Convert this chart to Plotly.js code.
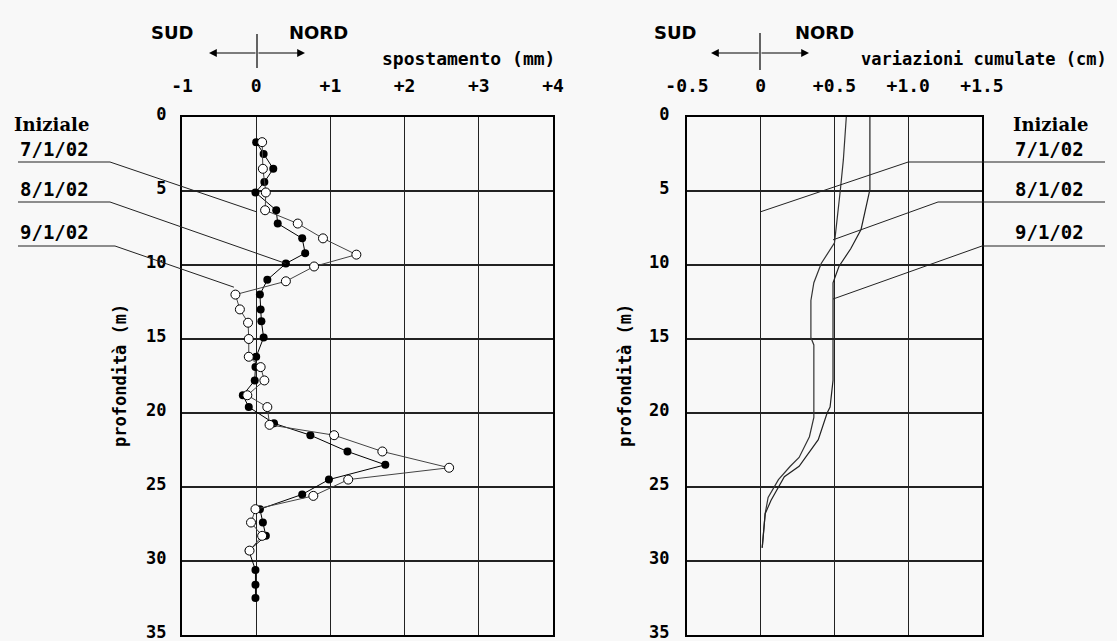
<!DOCTYPE html>
<html>
<head>
<meta charset="utf-8">
<script src="https://cdn.plot.ly/plotly-3.0.1.min.js"></script>
<style>html,body{margin:0;padding:0;background:#f8f8f8;}</style>
</head>
<body>
<div id="chart" style="width:1117px;height:641px;"></div>
<script>
// ---- data ----
// left panel: displacement (mm) vs depth (m)
const depth0801 = [1.7, 2.5, 3.5, 4.4, 5.1, 6.3, 7.2, 8.2, 9.2, 9.9, 11.0, 12.0, 13.0, 13.8, 14.9, 16.2, 16.9, 17.8, 18.8, 19.6, 20.7, 21.5, 22.6, 23.5, 24.5, 25.5, 26.5, 27.4, 28.3, 29.3, 30.6, 31.6, 32.5];
const disp0801  = [0.0, 0.1, 0.23, 0.11, -0.01, 0.27, 0.29, 0.62, 0.66, 0.40, 0.15, 0.05, 0.06, 0.07, 0.10, 0.0, -0.01, -0.02, -0.18, -0.10, 0.24, 0.73, 1.23, 1.74, 0.98, 0.62, 0.05, 0.09, 0.13, -0.10, -0.01, -0.01, -0.01];
const depth0901 = [1.7, 3.5, 5.1, 6.3, 7.2, 8.2, 9.3, 10.1, 11.1, 12.0, 13.0, 13.9, 15.0, 16.2, 16.9, 17.8, 18.8, 19.6, 20.8, 21.5, 22.6, 23.7, 24.5, 25.6, 26.5, 27.4, 28.3, 29.3];
const disp0901  = [0.08, 0.09, 0.13, 0.12, 0.56, 0.90, 1.35, 0.78, 0.40, -0.28, -0.22, -0.11, -0.10, -0.10, 0.06, 0.11, -0.12, 0.15, 0.18, 1.05, 1.70, 2.6, 1.24, 0.77, -0.01, -0.07, 0.08, -0.09];

// right panel: cumulative variation (cm) vs depth (m)
const cumDepth0801 = [0, 2.9, 4.9, 7.6, 8.5, 9.9, 11.2, 12.4, 14.9, 15.4, 20.3, 21.6, 23.0, 23.6, 24.5, 25.7, 26.8, 29.1];
const cum0801      = [0.58, 0.56, 0.54, 0.51, 0.50, 0.41, 0.36, 0.34, 0.34, 0.36, 0.36, 0.33, 0.26, 0.20, 0.12, 0.05, 0.03, 0.01];
const cumDepth0901 = [0, 3.1, 4.9, 5.8, 7.6, 8.9, 10.1, 11.2, 17.8, 19.6, 20.0, 21.8, 23.6, 24.3, 25.9, 26.8, 29.1];
const cum0901      = [0.74, 0.74, 0.74, 0.72, 0.68, 0.61, 0.53, 0.49, 0.49, 0.47, 0.45, 0.39, 0.26, 0.16, 0.07, 0.03, 0.01];

// tick labels
const leftTickVals  = [-1, 0, 1, 2, 3, 4];
const leftTickText  = ['-1', '0', '+1', '+2', '+3', '+4'];
const rightTickVals = [-0.5, 0, 0.5, 1.0, 1.5];
const rightTickText = ['-0.5', '0', '+0.5', '+1.0', '+1.5'];
const depthTicks    = [0, 5, 10, 15, 20, 25, 30, 35];
const dateLabels    = ['7/1/02', '8/1/02', '9/1/02'];

// ---- layout geometry ----
const W = 1117, H = 641;
const L1 = 182, R1 = 553, L2 = 687, R2 = 982, YT = 117, YB = 635;
const X1RANGE = [-1, 4], X2RANGE = [-0.5, 1.5], YRANGE = [35, 0];
const px = v => v / W, py = v => 1 - v / H;
const lx = v => L1 + (v - X1RANGE[0]) / (X1RANGE[1] - X1RANGE[0]) * (R1 - L1);
const rx = v => L2 + (v - X2RANGE[0]) / (X2RANGE[1] - X2RANGE[0]) * (R2 - L2);
const dy = d => YT + d / 35 * (YB - YT);

const MONO = 'DejaVu Sans Mono';
const bg = '#f8f8f8';

const traces = [
  {x: disp0801, y: depth0801, xaxis: 'x', yaxis: 'y', mode: 'lines+markers', name: '8/1/02',
   line: {color: '#000', width: 1}, marker: {symbol: 'circle', size: 8, color: '#000'}},
  {x: disp0901, y: depth0901, xaxis: 'x', yaxis: 'y', mode: 'lines+markers', name: '9/1/02',
   line: {color: '#444', width: 1}, marker: {symbol: 'circle', size: 9, color: '#fff', line: {color: '#000', width: 1}}},
  {x: cum0801, y: cumDepth0801, xaxis: 'x2', yaxis: 'y2', mode: 'lines', name: '8/1/02',
   line: {color: '#333', width: 1.2}},
  {x: cum0901, y: cumDepth0901, xaxis: 'x2', yaxis: 'y2', mode: 'lines', name: '9/1/02',
   line: {color: '#222', width: 1.2}}
];

const axisCommon = {
  showline: true, mirror: true, linecolor: '#000', linewidth: 2,
  showgrid: true, gridcolor: '#222', gridwidth: 1.2, zeroline: false,
  ticks: '', tickmode: 'array', fixedrange: true, ticklabeloverflow: 'allow',
  tickfont: {family: MONO, size: 18, color: '#000', weight: 'bold'}
};
const yFont = {family: MONO, size: 17, color: '#000', weight: 'bold'};

const shapes = [];
const annotations = [];
function seg(points) {
  let d = '';
  points.forEach((p, i) => { d += (i ? ' L ' : 'M ') + px(p[0]) + ' ' + py(p[1]); });
  shapes.push({type: 'path', path: d, xref: 'paper', yref: 'paper', line: {color: '#222', width: 1}});
}
function txt(x, y, text, size, anchor, family, angle) {
  annotations.push({x: px(x), y: py(y), xref: 'paper', yref: 'paper', text: text, showarrow: false,
    xanchor: anchor || 'center', yanchor: 'middle', textangle: angle || 0,
    font: {family: family || MONO, size: size, color: '#000', weight: 'bold'}});
}
function arrow(xHead, y, dx) {
  annotations.push({x: px(xHead), y: py(y), xref: 'paper', yref: 'paper', text: '', showarrow: true,
    ax: dx, ay: 0, arrowhead: 2, arrowsize: 1.3, arrowwidth: 1.2, arrowcolor: '#000'});
}

// header: SUD / NORD with arrows
[[257, 172, 318, 209, 305, 34, 68], [760, 675, 824, 711, 809, 33, 70]].forEach(h => {
  const [cx, sudX, nordX, aL, aR, vT, vB] = h;
  txt(sudX, 32, 'SUD', 18, 'center', 'DejaVu Sans');
  txt(nordX, 32, 'NORD', 18, 'center', 'DejaVu Sans');
  arrow(aL, 53, cx - aL);
  arrow(aR, 53, cx - aR);
  shapes.push({type: 'line', xref: 'paper', yref: 'paper', x0: px(cx), x1: px(cx), y0: py(vT), y1: py(vB),
    line: {color: '#000', width: 1.2}});
});
txt(468, 59, 'spostamento (mm)', 18);
txt(984, 59, 'variazioni cumulate (cm)', 17);

// y titles
txt(120, 376, 'profondità (m)', 17, 'center', MONO, -90);
txt(625, 376, 'profondità (m)', 17, 'center', MONO, -90);

// labels and leader lines
txt(12, 124, 'Iniziale', 18, 'left', 'DejaVu Serif');
txt(1011, 124, 'Iniziale', 18, 'left', 'DejaVu Serif');
const labelY = [149, 189, 232];
const lineY = [162, 202, 246];
dateLabels.forEach((t, i) => {
  txt(18, labelY[i], t, 19, 'left');
  txt(1013, labelY[i], t, 19, 'left');
});
// left leaders: end on the zero line (7/1), a 8/1 point, a 9/1 point
seg([[18, lineY[0]], [110, lineY[0]], [lx(0), dy(6.4)]]);
seg([[18, lineY[1]], [110, lineY[1]], [lx(disp0801[9]), dy(depth0801[9])]]);
seg([[18, lineY[2]], [115, lineY[2]], [lx(-0.3), dy(11.5)]]);
// right leaders
seg([[1105, lineY[0]], [rx(1.0), lineY[0]], [rx(0), dy(6.4)]]);
seg([[1105, lineY[1]], [938, lineY[1]], [rx(0.49), dy(8.3)]]);
seg([[1105, lineY[2]], [rx(1.5), lineY[2]], [rx(0.49), dy(12.3)]]);

const layout = {
  width: W, height: H,
  margin: {l: 0, r: 0, t: 0, b: 0, pad: 0},
  paper_bgcolor: bg, plot_bgcolor: bg,
  showlegend: false,
  xaxis: Object.assign({}, axisCommon, {domain: [px(L1), px(R1)], range: X1RANGE, side: 'top', anchor: 'y',
    tickvals: leftTickVals, ticktext: leftTickText, ticklabelstandoff: 16}),
  yaxis: Object.assign({}, axisCommon, {domain: [py(YB), py(YT)], range: YRANGE, anchor: 'x',
    tickvals: depthTicks, ticktext: depthTicks.map(String), ticklabelstandoff: 10, ticklabelshift: 3, tickfont: yFont}),
  xaxis2: Object.assign({}, axisCommon, {domain: [px(L2), px(R2)], range: X2RANGE, side: 'top', anchor: 'y2',
    tickvals: rightTickVals, ticktext: rightTickText, ticklabelstandoff: 16}),
  yaxis2: Object.assign({}, axisCommon, {domain: [py(YB), py(YT)], range: YRANGE, anchor: 'x2',
    tickvals: depthTicks, ticktext: depthTicks.map(String), ticklabelstandoff: 12, ticklabelshift: 3, tickfont: yFont}),
  shapes: shapes,
  annotations: annotations
};

Plotly.newPlot('chart', traces, layout, {displayModeBar: false, staticPlot: true});
</script>
</body>
</html>
